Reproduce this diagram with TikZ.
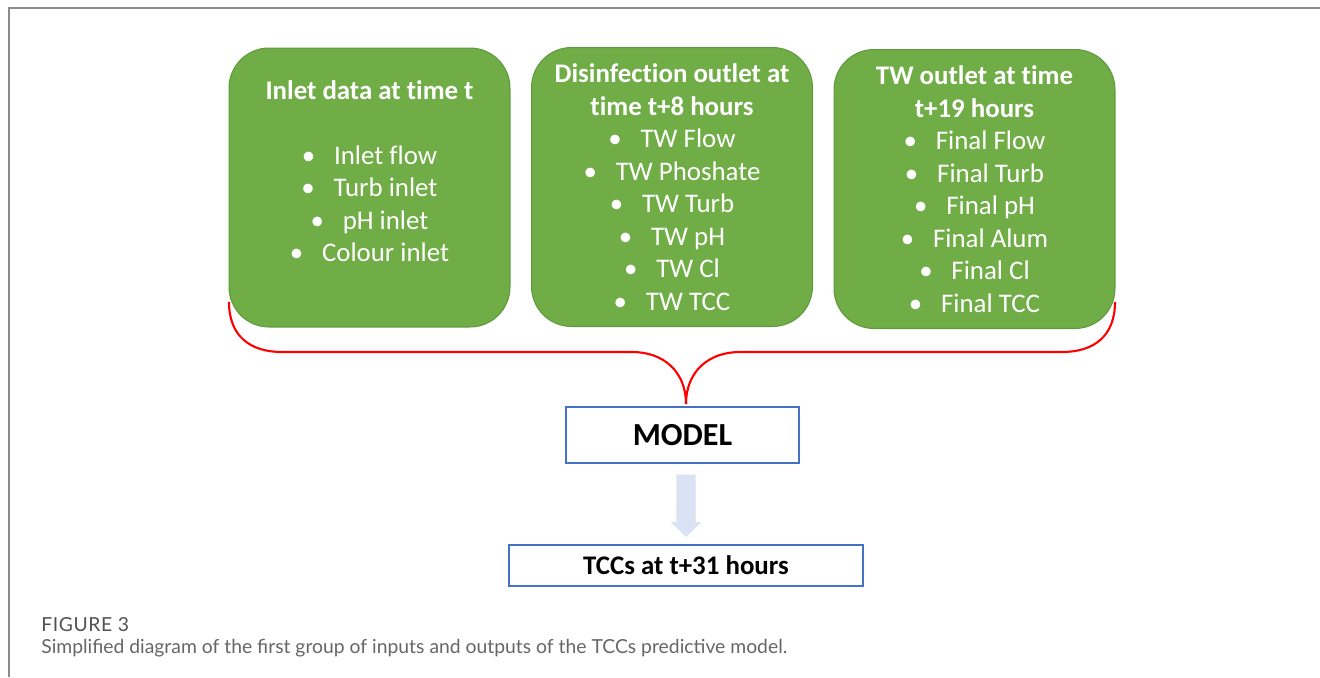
\documentclass[tikz,border=0pt]{standalone}
\usepackage{fontspec}
\setmainfont{Carlito}[Ligatures=NoCommon]
\newfontfamily\capfont{Lato}
\newfontfamily\capheadfont{Lato}[LetterSpace=3]
\usepackage{xcolor}
\usepackage{tikz}
\usetikzlibrary{arrows.meta,positioning}
\definecolor{cgreen}{HTML}{70AD47}
\definecolor{cgreenedge}{HTML}{5F9A3C}
\definecolor{cblue}{HTML}{4472C4}
\definecolor{cpale}{HTML}{DAE3F3}
\definecolor{cred}{HTML}{FF0000}
\definecolor{cframe}{HTML}{8C8C8C}
\definecolor{ccap}{HTML}{666666}
\tikzset{
  inbox/.style={draw=cgreenedge,line width=0.6pt,fill=cgreen,rounded corners=0.8cm,
    minimum width=5.62cm,minimum height=5.58cm,align=center,text=white,
    font=\fontsize{15.3}{18.5}\selectfont},
  outbox/.style={draw=cblue,line width=1.1pt,fill=white,align=center,font=\bfseries},
  brace/.style={cred,line width=1.2pt},
  blockarrow/.style={cpale,line width=11pt,-{Triangle[width=17pt,length=8.5pt]}}
}
\newcommand{\bul}[1]{\textbullet\hspace{0.7em}#1}

\begin{document}
\begin{tikzpicture}[x=0.02cm,y=-0.02cm]
\useasboundingbox (0,0) rectangle (1320,677);
\draw[cframe,line width=1pt] (9,677) -- (9,8) -- (1320,8);

% ============ input groups ============
\node[inbox] (inlet) at (369.5,187.5)
  {\textbf{Inlet data at time t}\\ \mbox{}\\ \bul{Inlet flow}\\ \bul{Turb inlet}\\
   \bul{pH inlet}\\ \bul{Colour inlet}\\ \mbox{}};
\node[inbox] (disinf) at (672,187)
  {\textbf{Disinfection outlet at}\\ \textbf{time t+8 hours}\\ \bul{TW Flow}\\ \bul{TW Phoshate}\\
   \bul{TW Turb}\\ \bul{TW pH}\\ \bul{TW Cl}\\ \bul{TW TCC}};
\node[inbox] (twout) at (974.5,189)
  {\textbf{TW outlet at time}\\ \textbf{t+19 hours}\\ \bul{Final Flow}\\ \bul{Final Turb}\\
   \bul{Final pH}\\ \bul{Final Alum}\\ \bul{Final Cl}\\ \bul{Final TCC}};

% ============ model and output ============
\node[outbox,minimum width=4.66cm,minimum height=1.12cm,font=\bfseries\fontsize{18.3}{20}\selectfont]
  (model) at (682.5,435) {MODEL};
\node[outbox,minimum width=7.08cm,minimum height=0.82cm,font=\bfseries\fontsize{15.3}{17}\selectfont]
  (tccs) at (686,565.5) {TCCs at t+31 hours};

% brace gathering the three groups
\coordinate (braceL) at (229,302);
\coordinate (braceR) at (1115,302);
\coordinate (braceTip) at (686,404);
\draw[brace] (braceL) .. controls (229,336) and (250,352) .. (282,352) -- (632,352)
  .. controls (664,352) and (686,372) .. (braceTip);
\draw[brace] (braceR) .. controls (1115,336) and (1094,352) .. (1062,352) -- (740,352)
  .. controls (708,352) and (686,372) .. (braceTip);

\draw[blockarrow] ([xshift=2pt,yshift=-6pt]model.south) -- ([yshift=4pt]tccs.north);

% ============ caption ============
\node[anchor=west,inner sep=0pt,font=\capheadfont\fontsize{11}{12}\selectfont,text=ccap!80!black]
  (figno) at (41,625) {FIGURE 3};
\node[anchor=west,inner sep=0pt,font=\capfont\fontsize{11}{13}\selectfont,text=ccap] (caption) at (41,648)
  {Simplified diagram of the first group of inputs and outputs of the TCCs predictive model.};

\end{tikzpicture}
\end{document}
